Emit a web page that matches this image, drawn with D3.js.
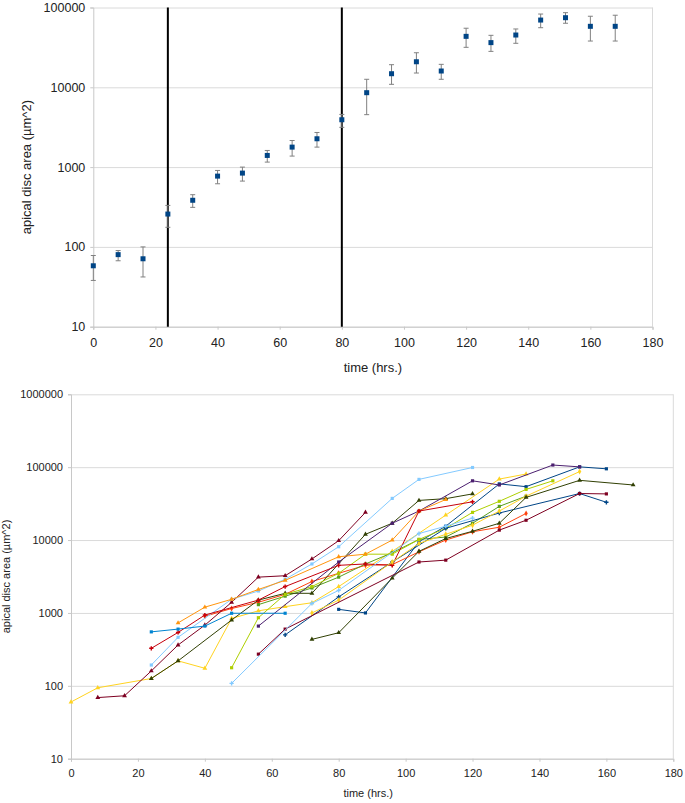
<!DOCTYPE html>
<html>
<head>
<meta charset="utf-8">
<script src="https://cdn.jsdelivr.net/npm/d3@7"></script>
<style>
  body { margin: 0; background: #fff; }
  svg text { font-family: "Liberation Sans", Arial, sans-serif; fill: #222; }
  .grid line { stroke: #dadada; }
  .grid path { stroke: none; }
  .axis path, .axis line { stroke: #c8c8c8; }
</style>
</head>
<body>
<div id="chart"></div>
<script>
// top panel: mean disc area with error bars
var hours = [0, 8, 16, 24, 32, 40, 48, 56, 64, 72, 80, 88, 96, 104, 112, 120, 128, 136, 144, 152, 160, 168];
var meanArea = [58, 80, 71, 258, 384, 771, 841, 1400, 1780, 2265, 3920, 8560, 14800, 20900, 16000, 43500, 36300, 45200, 69600, 74500, 58100, 58100];
var errLow = [38, 67, 42, 176, 313, 618, 668, 1155, 1374, 1780, 3150, 4540, 10900, 15100, 12600, 31700, 28200, 35600, 55800, 63500, 38000, 38000];
var errHigh = [78, 90, 100, 331, 451, 908, 1000, 1616, 2155, 2716, 4571, 12600, 19200, 27100, 19400, 55000, 44800, 53800, 82800, 86100, 77700, 80000];
var phaseMarks = [24, 80];

var xTicks = [0, 20, 40, 60, 80, 100, 120, 140, 160, 180];
var yTicksTop = [10, 100, 1000, 10000, 100000];
var yTicksBottom = [10, 100, 1000, 10000, 100000, 1000000];

// bottom panel: individual discs, [time, area]
var disc01 = [[80, 1120], [88, 1000], [104, 9500], [112, 15500], [128, 59000], [136, 54000], [152, 101000], [160, 95000]];
var disc02 = [[40, 900], [48, 1150], [56, 1400], [64, 1800], [72, 2700], [80, 3500], [88, 4500], [96, 4600], [104, 6900], [112, 10000], [120, 13000], [128, 15000], [136, 23200]];
var disc03 = [[0, 60], [8, 94], [24, 126], [32, 220], [40, 174], [48, 840], [56, 1070], [64, 1220], [72, 1380], [80, 2300], [96, 7000], [112, 22000], [128, 68700], [136, 80500]];
var disc04 = [[56, 1300], [64, 1700], [72, 2200], [80, 3100], [88, 4700], [96, 6700], [104, 10200], [112, 11000], [120, 17000], [128, 29000], [136, 40000]];
var disc05 = [[8, 69], [16, 73], [24, 160], [32, 363], [40, 680], [48, 1400], [56, 3100], [64, 3240], [72, 5500], [80, 9800], [88, 24000]];
var disc06 = [[24, 193], [32, 463], [48, 1540], [56, 2000], [64, 2900], [72, 4700], [80, 8100], [96, 37300], [104, 68000], [120, 99000]];
var disc07 = [[24, 126], [32, 220], [48, 800], [56, 1500], [64, 1860], [72, 1860], [88, 12000], [96, 17000], [104, 35000], [112, 37000], [120, 43000]];
var disc08 = [[48, 177], [56, 860], [64, 1800], [72, 2300], [80, 3500], [88, 6400], [96, 6400], [104, 10200], [112, 14500], [120, 24000], [128, 34000], [136, 49500], [144, 65000]];
var disc09 = [[56, 660], [80, 5000], [96, 17000], [104, 25000], [120, 65000], [128, 57000], [144, 107000], [152, 101000]];
var disc10 = [[32, 730], [40, 1200], [48, 1540], [56, 2100], [64, 2800], [80, 5900], [88, 6400], [96, 10000], [104, 25000], [112, 36000]];
var disc11 = [[24, 327], [32, 540], [40, 935], [56, 1500], [64, 2300], [80, 4500], [88, 4700], [96, 4500], [104, 25000], [120, 33500]];
var disc12 = [[24, 550], [32, 600], [40, 660], [48, 990], [64, 990]];
var disc13 = [[64, 500], [80, 1660], [96, 5000], [112, 14500], [128, 23500], [152, 43500], [160, 33000]];
var disc14 = [[72, 1000], [80, 1500], [96, 5000], [104, 9000], [112, 12000], [120, 16000], [128, 25000], [136, 40000], [152, 87000]];
var disc15 = [[56, 272], [64, 600], [104, 5000], [112, 5300], [128, 13700], [136, 18700], [152, 43500], [160, 43000]];
var disc16 = [[48, 108], [72, 1350], [80, 2040], [104, 12300], [112, 15500], [120, 20000]];
var disc17 = [[72, 434], [80, 535], [96, 3000], [104, 7000], [112, 10500], [120, 13200], [128, 17000], [136, 38500], [152, 66000], [168, 57000]];

var discs = [disc01, disc02, disc03, disc04, disc05, disc06, disc07, disc08, disc09, disc10, disc11, disc12, disc13, disc14, disc15, disc16, disc17];

var palette = ["#004586", "#ff420e", "#ffd320", "#579d1c", "#7e0021", "#83caff", "#314004",
               "#aecf00", "#4b1f6f", "#ff950e", "#c5000b", "#0084d1", "#004586", "#ffd320",
               "#7e0021", "#83caff", "#314004"];
var shapes = [d3.symbolSquare, d3.symbolDiamond, d3.symbolTriangle, d3.symbolSquare, d3.symbolTriangle,
              d3.symbolSquare, d3.symbolTriangle, d3.symbolSquare, d3.symbolSquare, d3.symbolTriangle,
              d3.symbolCross, d3.symbolSquare, d3.symbolCross, d3.symbolDiamond, d3.symbolSquare,
              d3.symbolCross, d3.symbolTriangle];

var svg = d3.select("#chart").append("svg")
    .attr("width", 685)
    .attr("height", 803);

function drawFrame(g, x, y, w, h, yTicks, fontSize) {
  g.append("g")
      .attr("class", "grid")
      .call(d3.axisLeft(y).tickValues(yTicks).tickSize(-w).tickFormat(""));

  // right border of the plot area
  g.append("line")
      .attr("x1", w).attr("x2", w)
      .attr("y1", 0).attr("y2", h)
      .attr("stroke", "#dadada");

  g.append("g")
      .attr("class", "axis")
      .call(d3.axisLeft(y).tickValues(yTicks).tickSize(3).tickPadding(5).tickFormat(d3.format("d")))
      .selectAll("text")
      .style("font-size", fontSize + "px")
      .attr("fill", "#222");

  g.append("g")
      .attr("class", "axis")
      .attr("transform", `translate(0,${h})`)
      .call(d3.axisBottom(x).tickValues(xTicks).tickSize(3).tickPadding(8))
      .selectAll("text")
      .style("font-size", fontSize + "px")
      .attr("fill", "#222");
}

// ---- top chart
var topM = {left: 93.3, top: 7.5};
var topW = 559.2, topH = 319.2;
var gTop = svg.append("g").attr("transform", `translate(${topM.left}, ${topM.top})`);

var xTop = d3.scaleLinear().domain([0, 180]).range([0, topW]);
var yTop = d3.scaleLog().domain([10, 100000]).range([topH, 0]);

drawFrame(gTop, xTop, yTop, topW, topH, yTicksTop, 12.5);

gTop.selectAll(".phase")
    .data(phaseMarks)
    .enter()
    .append("line")
    .attr("class", "phase")
    .attr("x1", d => xTop(d)).attr("x2", d => xTop(d))
    .attr("y1", 0).attr("y2", topH)
    .attr("stroke", "#000")
    .attr("stroke-width", 2);

var topRows = hours.map((h, i) => ({t: h, v: meanArea[i], lo: errLow[i], hi: errHigh[i]}));

var bars = gTop.selectAll(".err")
    .data(topRows)
    .enter()
    .append("g")
    .attr("class", "err")
    .attr("stroke", "#808080")
    .attr("stroke-width", 1);

bars.append("line")
    .attr("x1", d => xTop(d.t)).attr("x2", d => xTop(d.t))
    .attr("y1", d => yTop(d.lo)).attr("y2", d => yTop(d.hi));
bars.append("line")
    .attr("x1", d => xTop(d.t) - 2.5).attr("x2", d => xTop(d.t) + 2.5)
    .attr("y1", d => yTop(d.lo)).attr("y2", d => yTop(d.lo));
bars.append("line")
    .attr("x1", d => xTop(d.t) - 2.5).attr("x2", d => xTop(d.t) + 2.5)
    .attr("y1", d => yTop(d.hi)).attr("y2", d => yTop(d.hi));

gTop.selectAll(".pt")
    .data(topRows)
    .enter()
    .append("rect")
    .attr("class", "pt")
    .attr("x", d => xTop(d.t) - 2.5)
    .attr("y", d => yTop(d.v) - 2.5)
    .attr("width", 5)
    .attr("height", 5)
    .attr("fill", "#004586");

svg.append("text")
    .attr("transform", `translate(31, ${topM.top + topH / 2}) rotate(-90)`)
    .attr("text-anchor", "middle")
    .style("font-size", "13px")
    .text("apical disc area (µm^2)");

svg.append("text")
    .attr("x", topM.left + topW / 2)
    .attr("y", 372)
    .attr("text-anchor", "middle")
    .style("font-size", "13px")
    .text("time (hrs.)");

// ---- bottom chart
var botM = {left: 71, top: 394.3};
var botW = 602.3, botH = 364.4;
var gBot = svg.append("g").attr("transform", `translate(${botM.left}, ${botM.top})`);

var xBot = d3.scaleLinear().domain([0, 180]).range([0, botW]);
var yBot = d3.scaleLog().domain([10, 1000000]).range([botH, 0]);

drawFrame(gBot, xBot, yBot, botW, botH, yTicksBottom, 11);

var line = d3.line()
    .x(d => xBot(d[0]))
    .y(d => yBot(d[1]));

discs.forEach(function(s, i) {
  gBot.append("path")
      .datum(s)
      .attr("d", line)
      .attr("fill", "none")
      .attr("stroke", palette[i])
      .attr("stroke-width", 1);

  gBot.selectAll(".m" + i)
      .data(s)
      .enter()
      .append("path")
      .attr("class", "m" + i)
      .attr("d", d3.symbol().type(shapes[i]).size(10))
      .attr("transform", d => `translate(${xBot(d[0])}, ${yBot(d[1])})`)
      .attr("fill", palette[i]);
});

svg.append("text")
    .attr("transform", `translate(10, ${botM.top + botH / 2}) rotate(-90)`)
    .attr("text-anchor", "middle")
    .style("font-size", "11px")
    .text("apical disc area (µm^2)");

svg.append("text")
    .attr("x", botM.left + botW / 2 - 4)
    .attr("y", 797)
    .attr("text-anchor", "middle")
    .style("font-size", "11px")
    .text("time (hrs.)");
</script>
</body>
</html>
